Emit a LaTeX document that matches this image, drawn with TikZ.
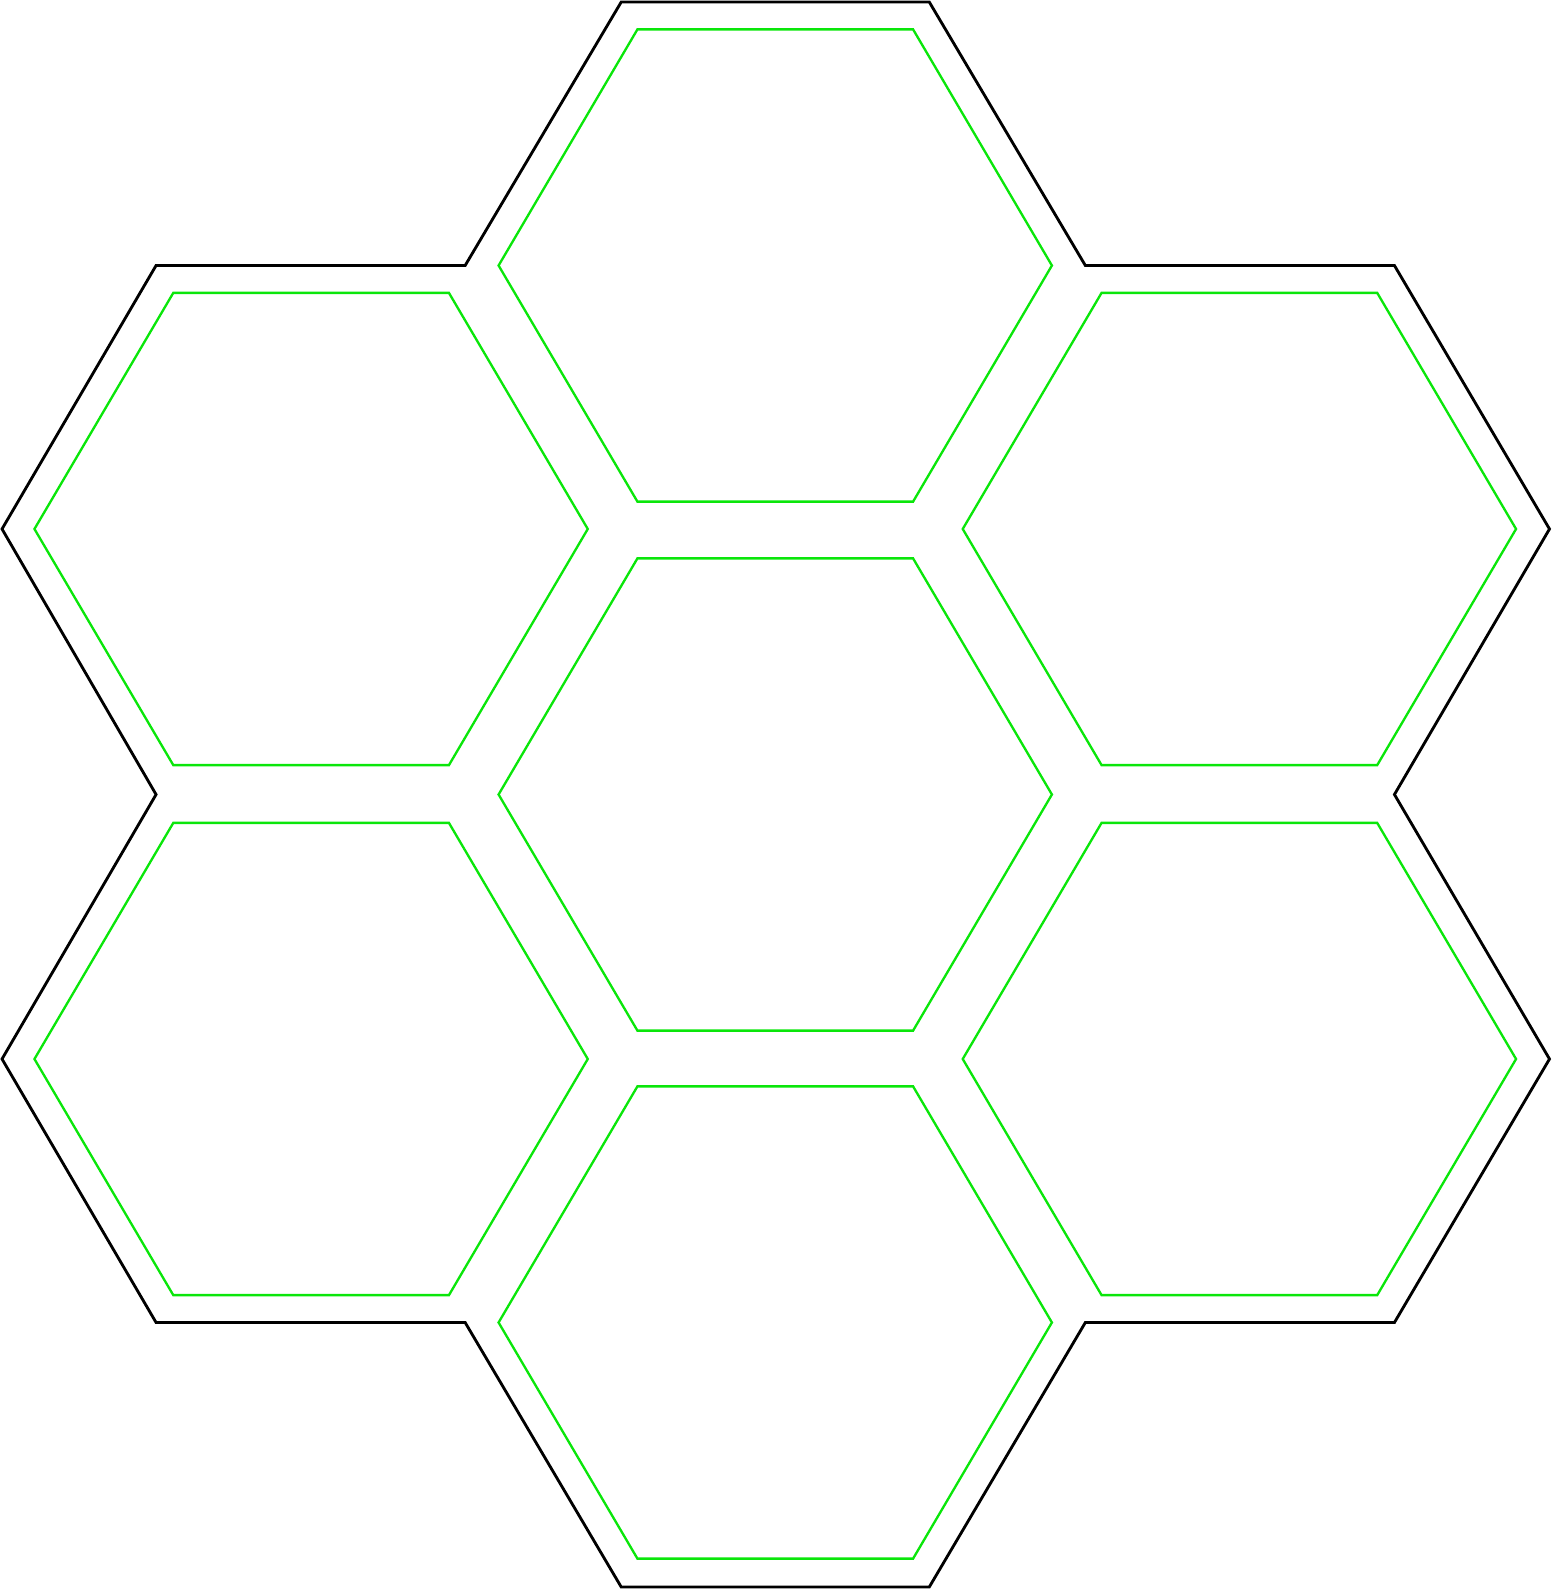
\documentclass[tikz,border=0pt]{standalone}
\usetikzlibrary{calc}
\definecolor{hexgreen}{RGB}{10,230,10}
\begin{document}
\begin{tikzpicture}[x=1pt,y=-1pt,
  outerline/.style={draw=black,line width=2.8pt,line join=miter},
  cell/.style={draw=hexgreen,line width=2.3pt,line join=miter}]
\useasboundingbox (0,0) rectangle (1531,1568);
\draw[outerline] (613,2) -- (917,2) -- (1071,262) -- (1376,262) -- (1529,522) -- (1376,784) -- (1529,1045) -- (1376,1305) -- (1071,1305) -- (917,1566) -- (613,1566) -- (459,1305) -- (154,1305) -- (2,1045) -- (154,784) -- (2,522) -- (154,262) -- (459,262) -- cycle;
\foreach \cx/\cy in {765/262, 307/522, 1223/522, 765/784, 307/1045, 1223/1045, 765/1305}{
  \draw[cell] ($(\cx,\cy)+(-136,-233)$) -- ++(272,0) -- ++(137,233) -- ++(-137,233) -- ++(-272,0) -- ++(-137,-233) -- cycle;
}
\end{tikzpicture}
\end{document}
